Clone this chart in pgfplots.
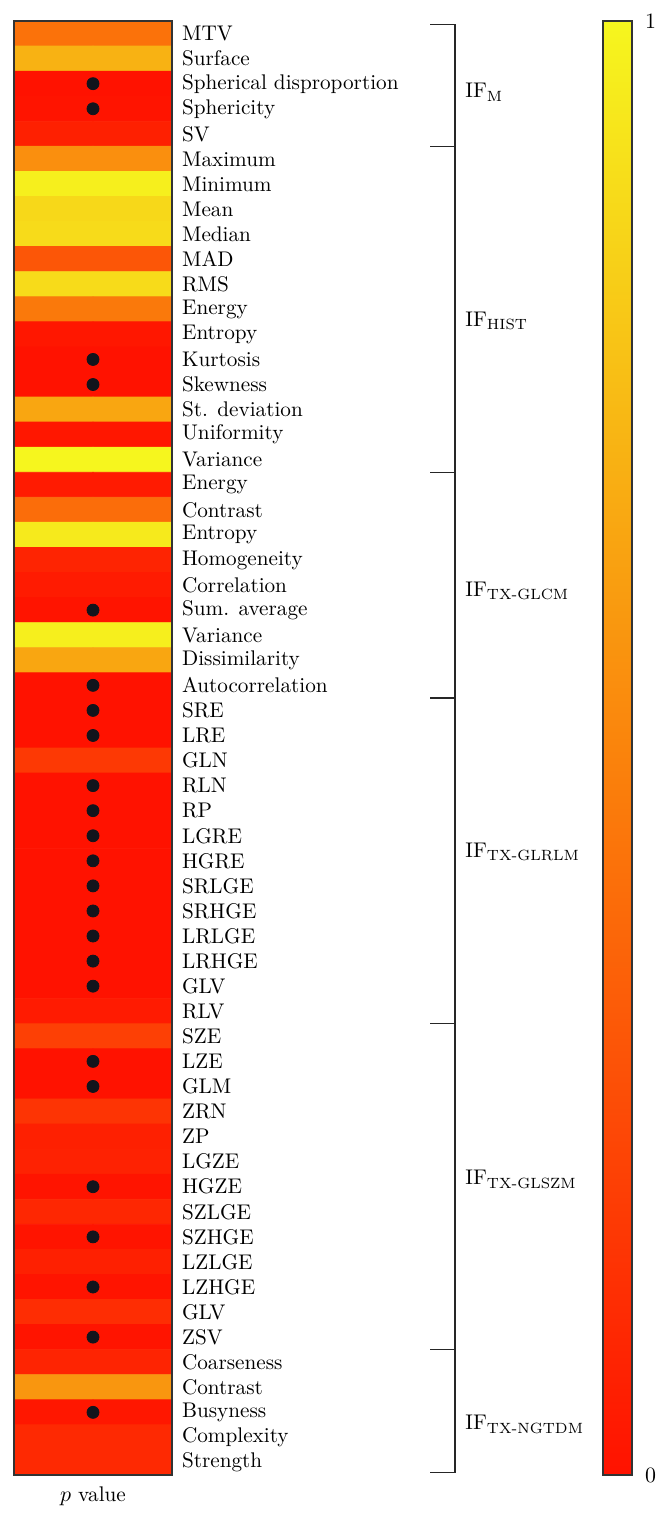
\documentclass[border=0pt]{standalone}
\usepackage{fontspec}
\usepackage{pgfplots}
\pgfplotsset{compat=1.18}
\usepackage{pgfplotstable}
\definecolor{dotc}{RGB}{18,20,28}
\pgfplotstableread{
x y p
0 1 0.42
1 1 0.42
0 2 0.70
1 2 0.70
0 3 0.00
1 3 0.00
0 4 0.01
1 4 0.01
0 5 0.06
1 5 0.06
0 6 0.55
1 6 0.55
0 7 0.97
1 7 0.97
0 8 0.87
1 8 0.87
0 9 0.88
1 9 0.88
0 10 0.30
1 10 0.30
0 11 0.88
1 11 0.88
0 12 0.45
1 12 0.45
0 13 0.02
1 13 0.02
0 14 0.00
1 14 0.00
0 15 0.00
1 15 0.00
0 16 0.65
1 16 0.65
0 17 0.02
1 17 0.02
0 18 1.00
1 18 1.00
0 19 0.04
1 19 0.04
0 20 0.40
1 20 0.40
0 21 0.95
1 21 0.95
0 22 0.08
1 22 0.08
0 23 0.04
1 23 0.04
0 24 0.01
1 24 0.01
0 25 0.97
1 25 0.97
0 26 0.65
1 26 0.65
0 27 0.00
1 27 0.00
0 28 0.00
1 28 0.00
0 29 0.00
1 29 0.00
0 30 0.17
1 30 0.17
0 31 0.00
1 31 0.00
0 32 0.00
1 32 0.00
0 33 0.00
1 33 0.00
0 34 0.00
1 34 0.00
0 35 0.00
1 35 0.00
0 36 0.00
1 36 0.00
0 37 0.00
1 37 0.00
0 38 0.00
1 38 0.00
0 39 0.00
1 39 0.00
0 40 0.04
1 40 0.04
0 41 0.20
1 41 0.20
0 42 0.00
1 42 0.00
0 43 0.00
1 43 0.00
0 44 0.15
1 44 0.15
0 45 0.06
1 45 0.06
0 46 0.07
1 46 0.07
0 47 0.01
1 47 0.01
0 48 0.09
1 48 0.09
0 49 0.01
1 49 0.01
0 50 0.06
1 50 0.06
0 51 0.01
1 51 0.01
0 52 0.12
1 52 0.12
0 53 0.01
1 53 0.01
0 54 0.08
1 54 0.08
0 55 0.58
1 55 0.58
0 56 0.02
1 56 0.02
0 57 0.10
1 57 0.10
0 58 0.10
1 58 0.10
}\pvals
\begin{document}
\begin{tikzpicture}
\path[use as bounding box] (-7pt,10.5pt) rectangle (325.5pt,-750pt);
\begin{axis}[
  at={(0,0)}, anchor=north west,
  scale only axis, width=79pt, height=727pt,
  xmin=-0.5, xmax=1.5, ymin=0.5, ymax=58.5,
  y dir=reverse, enlargelimits=false, clip=false,
  axis on top,
  axis line style={line width=0.6pt, draw=black!80},
  xtick=\empty,
  ytick={1,...,58},
  yticklabel pos=right,
  major tick length=0pt,
  yticklabels={MTV,Surface,Spherical disproportion,Sphericity,SV,Maximum,Minimum,Mean,Median,MAD,RMS,Energy,Entropy,Kurtosis,Skewness,St. deviation,Uniformity,Variance,Energy,Contrast,Entropy,Homogeneity,Correlation,Sum. average,Variance,Dissimilarity,Autocorrelation,SRE,LRE,GLN,RLN,RP,LGRE,HGRE,SRLGE,SRHGE,LRLGE,LRHGE,GLV,RLV,SZE,LZE,GLM,ZRN,ZP,LGZE,HGZE,SZLGE,SZHGE,LZLGE,LZHGE,GLV,ZSV,Coarseness,Contrast,Busyness,Complexity,Strength},
  yticklabel style={font=\fontsize{10.6}{12}\selectfont, xshift=1.5pt},
  xlabel={$p$ value},
  xlabel style={at={(axis description cs:0.5,0)}, anchor=north, yshift=-2.5pt, font=\fontsize{10.6}{12}\selectfont},
  colormap={autumnp}{rgb255=(255,18,0) rgb255=(250,132,12) rgb255=(246,246,30)},
  point meta min=0, point meta max=1,
  colorbar,
  colorbar style={
    at={(parent axis.north east)}, anchor=north west, xshift=207pt,
    width=14.5pt,
    ytick={0,1},
    major tick length=0pt,
    axis line style={line width=0.6pt, draw=black!80},
    yticklabel style={font=\fontsize{10.6}{12}\selectfont, xshift=3pt},
  },
]
\addplot[matrix plot*, mesh/cols=2, mesh/ordering=x varies, point meta=explicit]
  table[x=x, y=y, meta=p] {\pvals};
\addplot[only marks, mark=*, mark size=3pt, color=dotc]
  coordinates {(0.5,3) (0.5,4) (0.5,14) (0.5,15) (0.5,24) (0.5,27) (0.5,28) (0.5,29)
  (0.5,31) (0.5,32) (0.5,33) (0.5,34) (0.5,35) (0.5,36) (0.5,37) (0.5,38) (0.5,39)
  (0.5,42) (0.5,43) (0.5,47) (0.5,49) (0.5,51) (0.5,53) (0.5,56)};
% group brackets
\draw[line width=0.7pt, black!85] (axis cs:4.766,0.65) -- (axis cs:5.082,0.65) -- (axis cs:5.082,58.4) -- (axis cs:4.766,58.4);
\draw[line width=0.7pt, black!85] (axis cs:4.766,5.5) -- (axis cs:5.082,5.5);
\draw[line width=0.7pt, black!85] (axis cs:4.766,18.5) -- (axis cs:5.082,18.5);
\draw[line width=0.7pt, black!85] (axis cs:4.766,27.5) -- (axis cs:5.082,27.5);
\draw[line width=0.7pt, black!85] (axis cs:4.766,40.5) -- (axis cs:5.082,40.5);
\draw[line width=0.7pt, black!85] (axis cs:4.766,53.5) -- (axis cs:5.082,53.5);
\node[anchor=base west, inner sep=0pt, font=\fontsize{10.6}{12}\selectfont] at (axis cs:5.209,3.57) {IF\textsubscript{M}};
\node[anchor=base west, inner sep=0pt, font=\fontsize{10.6}{12}\selectfont] at (axis cs:5.209,12.67) {IF\textsubscript{HIST}};
\node[anchor=base west, inner sep=0pt, font=\fontsize{10.6}{12}\selectfont] at (axis cs:5.209,23.44) {IF\textsubscript{TX-GLCM}};
\node[anchor=base west, inner sep=0pt, font=\fontsize{10.6}{12}\selectfont] at (axis cs:5.209,33.85) {IF\textsubscript{TX-GLRLM}};
\node[anchor=base west, inner sep=0pt, font=\fontsize{10.6}{12}\selectfont] at (axis cs:5.209,46.93) {IF\textsubscript{TX-GLSZM}};
\node[anchor=base west, inner sep=0pt, font=\fontsize{10.6}{12}\selectfont] at (axis cs:5.209,56.7) {IF\textsubscript{TX-NGTDM}};
\end{axis}
\end{tikzpicture}
\end{document}
